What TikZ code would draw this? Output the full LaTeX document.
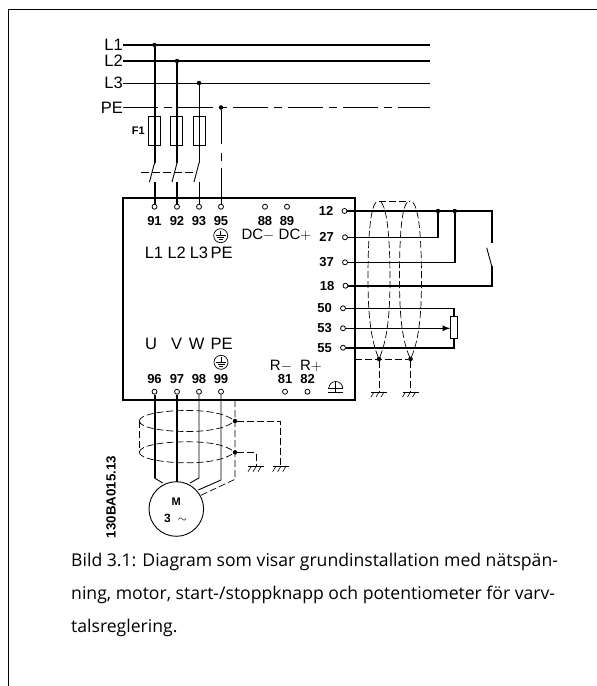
\documentclass[tikz,border=0pt]{standalone}
\usepackage{fontspec}
\setmainfont{Liberation Sans}
\newfontfamily\capfont{Open Sans}
\usetikzlibrary{arrows, calc, positioning}
\tikzset{
    term/.style={circle, draw, fill=white, line width=0.8pt, inner sep=0pt, minimum size=5pt},
    jdot/.style={circle, draw, fill=black, inner sep=0pt, minimum size=4pt},
    fuse/.style={draw, line width=1pt, inner sep=0pt, minimum width=12pt, minimum height=29pt},
    pwr/.style={line width=2pt},
    sig/.style={line width=0.9pt},
    ctl/.style={line width=1.6pt},
    scr/.style={line width=0.7pt, dash pattern=on 7pt off 3pt},
    peLine/.style={line width=0.8pt, dash pattern=on 35pt off 6pt on 8pt off 6pt},
    numLab/.style={font=\bfseries\fontsize{13}{14}\selectfont, inner sep=0pt},
    bigLab/.style={font=\fontsize{16.5}{17}\selectfont, inner sep=0pt},
    dcLab/.style={font=\fontsize{15}{16}\selectfont, inner sep=0pt},
}
% earth with three slanted strokes
\newcommand{\drawEarth}[1]{
    \draw[sig] ($(#1)+(-8,0)$) -- ($(#1)+(8,0)$);
    \foreach \dx in {-5,0,5} {
        \draw[line width=0.6pt] ($(#1)+(\dx,0)$) -- ($(#1)+(\dx-3,5)$);
    }
}
% circled protective earth
\newcommand{\drawPE}[1]{
    \draw[line width=0.7pt] (#1) circle (7pt);
    \draw[line width=0.7pt] ($(#1)+(0,-5)$) -- (#1);
    \draw[line width=0.7pt] ($(#1)+(-5,0)$) -- ($(#1)+(5,0)$);
    \draw[line width=0.7pt] ($(#1)+(-3.5,2)$) -- ($(#1)+(3.5,2)$);
    \draw[line width=0.7pt] ($(#1)+(-2,4)$) -- ($(#1)+(2,4)$);
}
\begin{document}
\begin{tikzpicture}[x=1pt, y=-1pt]
    \useasboundingbox (0,0) rectangle (597,686);

    % page frame
    \coordinate (fB) at (8.5,686);
    \coordinate (fL) at (8.5,9);
    \coordinate (fR) at (597,9);
    \draw[line width=0.9pt] (fB) -- (fL) -- (fR);

    % supply
    \node[bigLab, anchor=east] (L1) at (123,45) {L1};
    \node[bigLab, anchor=east] (L2) at (123,61) {L2};
    \node[bigLab, anchor=east] (L3) at (123,83) {L3};
    \node[bigLab, anchor=east] (PE) at (123,107.5) {PE};
    \coordinate (L1e) at (430,45);
    \coordinate (L2e) at (430,61);
    \coordinate (L3e) at (430,83);
    \coordinate (PEe) at (430,107.5);
    \node[jdot] (j1) at (154.5,45) {};
    \node[jdot] (j2) at (177,61) {};
    \node[jdot] (j3) at (199,83) {};
    \node[jdot] (j4) at (221,107.5) {};
    \draw[pwr] (L1) -- (L1e);
    \draw[pwr] (L2) -- (L2e);
    \draw[sig] (L3) -- (L3e);
    \draw[peLine] (PE) -- (PEe);

    % drive
    \draw[line width=2pt] (122.5,198) rectangle (354.5,400);

    % wires into the top terminals, below the circles
    \coordinate (s1) at (154.5,163);
    \coordinate (s2) at (177,163);
    \coordinate (s3) at (199,163);
    \coordinate (s1b) at (149.5,182);
    \coordinate (s2b) at (172,182);
    \coordinate (s3b) at (194,182);
    \coordinate (c1) at (154.5,182);
    \coordinate (c2) at (177,182);
    \coordinate (c3) at (199,182);
    \coordinate (t91w) at (154.5,206.7);
    \coordinate (t92w) at (177,206.7);
    \coordinate (t93w) at (199,206.7);
    \coordinate (t95w) at (221,206.7);
    \draw[pwr] (c1) -- (t91w);
    \draw[pwr] (c2) -- (t92w);
    \draw[sig] (c3) -- (t93w);
    \draw[sig, dash pattern=on 34pt off 9pt on 8pt off 7pt on 60pt] (j4) -- (t95w);

    % terminals along the top
    \foreach \nm/\xx in {91/154.5, 92/177, 93/199, 95/221, 88/265, 89/287} {
        \node[term] (t\nm) at (\xx,206.7) {};
        \node[numLab, below=7pt of t\nm] (n\nm) {\nm};
    }
    % terminals along the bottom
    \foreach \nm/\xx in {96/154.5, 97/177, 98/199, 99/221, 81/285, 82/307.5} {
        \node[term] (t\nm) at (\xx,391.7) {};
        \node[numLab, above=5pt of t\nm] (n\nm) {\nm};
    }
    % terminals on the right
    \foreach \nm/\xx/\yy in {12/344.5/211, 27/345/237.3, 37/345/262.3, 18/345.5/285.7, 50/343/308.3, 53/343/328.3, 55/343/347.7} {
        \node[term] (t\nm) at (\xx,\yy) {};
        \node[numLab, left=8pt of t\nm] (n\nm) {\nm};
    }

    \node[bigLab] (tL1) at (154,252.7) {L1};
    \node[bigLab] (tL2) at (176.7,252.7) {L2};
    \node[bigLab] (tL3) at (199,252.7) {L3};
    \node[bigLab] (tPE) at (221.7,252.7) {PE};
    \node[dcLab] (tDCm) at (258,235) {DC$-$};
    \node[dcLab] (tDCp) at (295,235) {DC$+$};
    \node[bigLab] (tU) at (151,344) {U};
    \node[bigLab] (tV) at (176.7,344) {V};
    \node[bigLab] (tW) at (196.7,344) {W};
    \node[bigLab] (tPEb) at (221.7,344) {PE};
    \node[dcLab] (tRm) at (281,365.7) {R$-$};
    \node[dcLab] (tRp) at (311,365.7) {R$+$};
    \coordinate (peTop) at (220.7,235.7);
    \coordinate (peBot) at (221,362.3);
    \drawPE{peTop}
    \drawPE{peBot}

    % chassis earth symbol
    \coordinate (chE) at (335.7,388.5);
    \draw[line width=0.7pt] ($(chE)+(-7,0)$) arc (180:0:7pt);
    \draw[line width=0.7pt] ($(chE)+(-7.5,0)$) -- ($(chE)+(7.5,0)$);
    \draw[line width=0.7pt] ($(chE)+(0,-7)$) -- ($(chE)+(0,4)$);
    \draw[line width=0.9pt] ($(chE)+(-7.5,4)$) -- ($(chE)+(7.5,4)$);

    % fuses and switch
    \node[fuse] (F1a) at (154.5,130.5) {};
    \node[fuse] (F1b) at (176.5,130.5) {};
    \node[fuse] (F1c) at (199,130.5) {};
    \node[font=\bfseries\fontsize{11}{12}\selectfont, inner sep=0pt, left=3pt of F1a] (F1) {F1};
    \draw[pwr] (j1) -- (s1);
    \draw[pwr] (j2) -- (s2);
    \draw[sig] (j3) -- (s3);
    \draw[sig] (s1) -- (s1b);
    \draw[sig] (s2) -- (s2b);
    \draw[sig] (s3) -- (s3b);
    \coordinate (swL) at (141,172.7);
    \coordinate (swR) at (197,172.7);
    \draw[sig, dash pattern=on 8pt off 3pt] (swL) -- (swR);

    % start and stop wiring
    \coordinate (k1) at (491.7,211);
    \coordinate (k2) at (491.7,243);
    \coordinate (k3) at (486.7,247.7);
    \coordinate (k4) at (491.7,266);
    \coordinate (k5) at (491.7,285.7);
    \node[jdot] (j12a) at (438,211) {};
    \node[jdot] (j12b) at (454.7,211) {};
    \draw[ctl] (t12) -- (k1) -- (k2);
    \draw[sig] (k3) -- (k4);
    \draw[ctl] (k4) -- (k5) -- (t18);
    \draw[ctl] (t27) -| (j12a);
    \draw[ctl] (t37) -| (j12b);

    % potentiometer
    \node[draw, line width=0.9pt, inner sep=0pt, minimum width=7pt, minimum height=21.6pt] (pot) at (454.2,327.5) {};
    \draw[ctl] (t50) -| (pot.north);
    \draw[ctl] (t55) -| (pot.south);
    \draw[ctl, -latex] (t53) -- (pot.west |- t53);

    % screens, right
    \coordinate (h1t) at (378.5,201);
    \coordinate (h2t) at (410,201);
    \node[jdot] (h1) at (379,359) {};
    \node[jdot] (h2) at (410.5,359) {};
    \coordinate (h0) at (354.5,359);
    \coordinate (g1) at (379,392);
    \coordinate (g2) at (410.5,392);
    \draw[scr] (h1) .. controls (372,342) and (368,320) .. (368,280) .. controls (368,230) and (371,201) .. (h1t);
    \draw[scr] (h1) .. controls (386,342) and (390,320) .. (390,280) .. controls (390,230) and (386,201) .. (h1t);
    \draw[scr] (h2) .. controls (403,342) and (399.5,320) .. (399.5,280) .. controls (399.5,230) and (402,201) .. (h2t);
    \draw[scr] (h2) .. controls (418,342) and (421.5,320) .. (421.5,280) .. controls (421.5,230) and (418,201) .. (h2t);
    \draw[scr] (h1t) -- (h2t);
    \draw[scr] (h0) -- (h2);
    \draw[scr] (h1) -- (g1);
    \draw[scr] (h2) -- (g2);
    \drawEarth{g1}
    \drawEarth{g2}

    % motor
    \node[draw, circle, line width=0.9pt, inner sep=0pt, minimum size=54.6pt] (M) at (176.3,509) {};
    \node[font=\bfseries\fontsize{11}{12}\selectfont, inner sep=0pt] (Mlab) at (176.3,501.5) {M};
    \node[font=\bfseries\fontsize{12}{13}\selectfont, inner sep=0pt] (Mrat) at (175.5,518) {3\;\;$\sim$};
    \coordinate (m1) at (154.5,478);
    \coordinate (m3) at (199,478);
    \coordinate (m4) at (221,480);
    \coordinate (m5) at (235,479.3);
    \coordinate (m1e) at (162.7,483);
    \coordinate (m2e) at (177,482);
    \coordinate (m3e) at (190,483);
    \coordinate (m4e) at (198.3,490);
    \coordinate (m5e) at (200,495.7);
    \draw[pwr] (t96) -- (m1);
    \draw[sig] (m1) -- (m1e);
    \draw[pwr] (t97) -- (m2e);
    \draw[sig] (t98) -- (m3) -- (m3e);
    \draw[sig] (t99) -- (m4) -- (m4e);

    % screens, motor side
    \coordinate (e0) at (235,400);
    \node[jdot] (e1) at (235,421) {};
    \node[jdot] (e2) at (235,452.3) {};
    \coordinate (eL1) at (139.3,421);
    \coordinate (eL2) at (139.3,452.3);
    \coordinate (g3) at (256,466.7);
    \coordinate (g4) at (280.7,466.7);
    \draw[scr] (e0) -- (m5) -- (m5e);
    \draw[scr] (eL1) -- (eL2);
    \draw[scr] (eL1) .. controls (139.3,414) and (165,410.5) .. (187,410.5) .. controls (210,410.5) and (225,414) .. (e1);
    \draw[scr] (eL1) .. controls (139.3,428) and (165,431.5) .. (187,431.5) .. controls (210,431.5) and (225,428) .. (e1);
    \draw[scr] (eL2) .. controls (139.3,445) and (165,441.8) .. (187,441.8) .. controls (210,441.8) and (225,445) .. (e2);
    \draw[scr] (eL2) .. controls (139.3,459) and (165,462.8) .. (187,462.8) .. controls (210,462.8) and (225,459) .. (e2);
    \draw[scr] (e1) -| (g4);
    \draw[scr] (e2) -| (g3);
    \drawEarth{g3}
    \drawEarth{g4}

    \node[rotate=90, font=\fontsize{13.3}{14}\selectfont\bfseries, inner sep=0pt] (partno) at (111,497) {130BA015.13};

    % caption
    \node[anchor=north west, align=left, inner sep=0pt, font=\capfont\fontsize{17.6}{33}\selectfont] (cap) at (71,552.5) {Bild 3.1: Diagram som visar grundinstallation med nätspän-\\ning, motor, start-/stoppknapp och potentiometer för varv-\\talsreglering.};
\end{tikzpicture}
\end{document}
